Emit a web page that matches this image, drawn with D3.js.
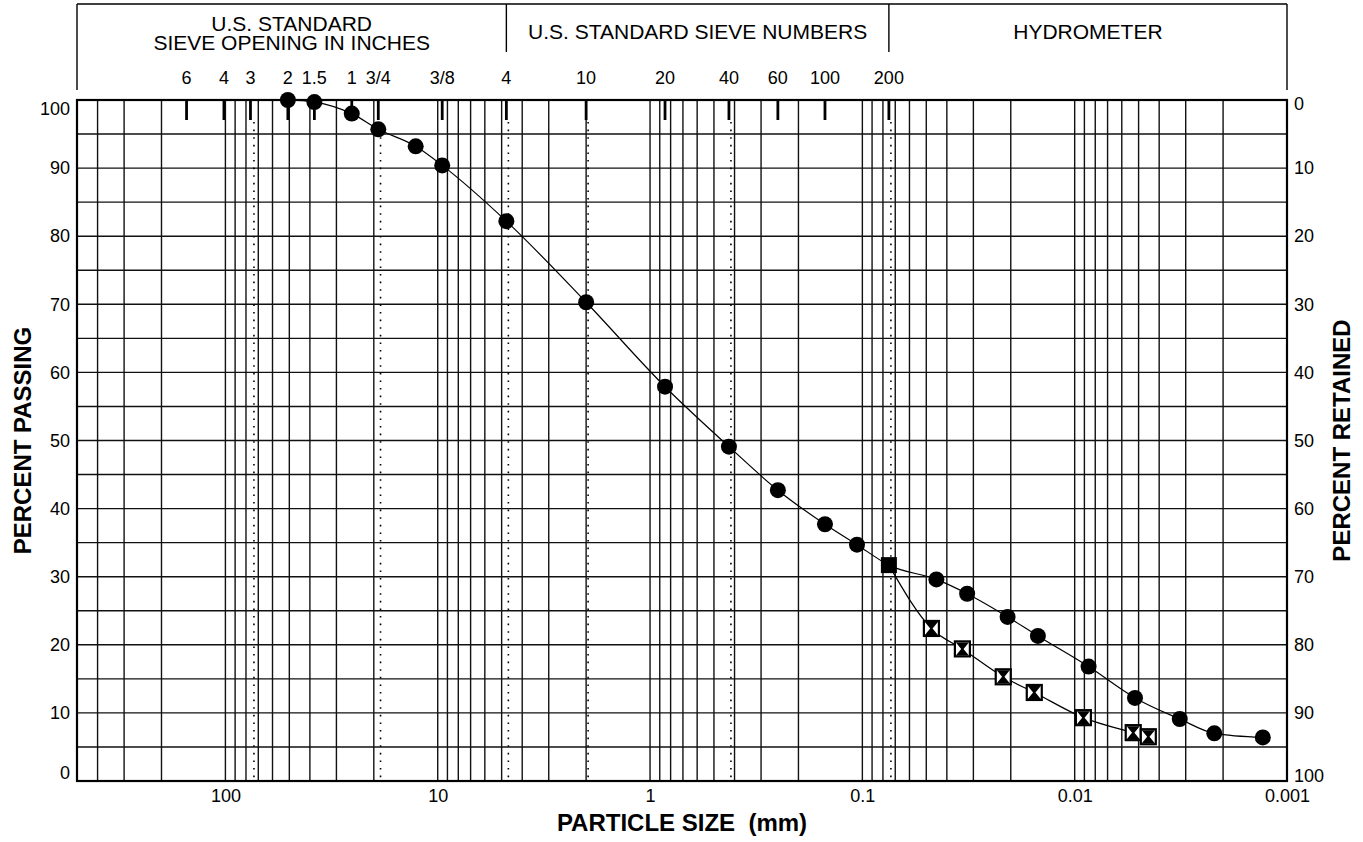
<!DOCTYPE html>
<html>
<head>
<meta charset="utf-8">
<script src="https://cdn.jsdelivr.net/npm/d3@7"></script>
<style>
    body { margin: 0; background: #fff; }
    text { font-family: "Liberation Sans", Arial, sans-serif; fill: #000; }
    .grid line { stroke: #111; stroke-width: 1.4; }
    .boundary line { stroke: #000; stroke-width: 1.6; stroke-dasharray: 1.6 6; }
    .frame { fill: none; stroke: #000; stroke-width: 2.2; }
    .head line { stroke: #000; stroke-width: 1.4; }
    .curve { fill: none; stroke: #000; stroke-width: 1.2; }
    .title { font-weight: bold; font-size: 24px; white-space: pre; }
</style>
</head>
<body>
<div class="container"></div>
<script>
// sieve test (percent passing by particle size in mm)
var sieveSize = [50.8, 38.1, 25.4, 19.05, 12.7, 9.525, 4.75, 2.0, 0.85, 0.425, 0.25, 0.15, 0.106];
var sievePassing = [100, 99.7, 98.0, 95.7, 93.2, 90.4, 82.2, 70.3, 57.9, 49.1, 42.7, 37.7, 34.7];

// No. 200 split point, shared by both hydrometer curves
var no200Size = [0.075];
var no200Passing = [31.7];

var hydroASize = [0.0448, 0.0321, 0.0207, 0.0149, 0.0086, 0.0052, 0.0032, 0.0022, 0.0013];
var hydroAPassing = [29.6, 27.5, 24.1, 21.3, 16.8, 12.2, 9.1, 7.0, 6.4];

var hydroBSize = [0.0473, 0.0338, 0.0217, 0.0155, 0.0091, 0.0053, 0.0045];
var hydroBPassing = [22.4, 19.4, 15.3, 13.0, 9.3, 7.1, 6.5];

var sieveLabels = ['6', '4', '3', '2', '1.5', '1', '3/4', '3/8', '4', '10', '20', '40', '60', '100', '200'];
var sieveOpenings = [152.4, 101.6, 76.2, 50.8, 38.1, 25.4, 19.05, 9.525, 4.75, 2.0, 0.85, 0.425, 0.25, 0.15, 0.075];
var boundarySizes = [75, 19, 4.75, 2.0, 0.425, 0.075];

var headerTitles = [['U.S. STANDARD', 'SIEVE OPENING IN INCHES'], ['U.S. STANDARD SIEVE NUMBERS'], ['HYDROMETER']];
var headerBreaks = [500, 4.75, 0.075, 0.001];

var sizeTicks = [100, 10, 1, 0.1, 0.01, 0.001];
var percentTicks = [0, 10, 20, 30, 40, 50, 60, 70, 80, 90, 100];

const WIDTH = 1363;
const HEIGHT = 842;
const LEFT = 77, RIGHT = 1287, TOP = 100, BOTTOM = 781;

var zip = function (xs, ys) {
    return xs.map(function (d, i) { return { size: d, passing: ys[i] }; });
};

var svg = d3.select('.container').append('svg')
    .attr('width', WIDTH)
    .attr('height', HEIGHT);

var x = d3.scaleLog().domain([500, 0.001]).range([LEFT, RIGHT]);
var y = d3.scaleLinear().domain([0, 100]).range([BOTTOM, TOP]);
var yRetained = d3.scaleLinear().domain([100, 0]).range([BOTTOM, TOP]);

// log grid: 1..9 in every decade inside the domain
var gridSizes = [];
for (var e = -3; e <= 2; e++) {
    for (var k = 1; k <= 9; k++) {
        var v = k * Math.pow(10, e);
        if (v > 0.0011 && v < 499) gridSizes.push(v);
    }
}

var grid = svg.append('g').attr('class', 'grid');
grid.selectAll('.v').data(gridSizes).enter().append('line')
    .attr('class', 'v')
    .attr('x1', function (d) { return x(d); })
    .attr('x2', function (d) { return x(d); })
    .attr('y1', TOP).attr('y2', BOTTOM);
grid.selectAll('.h').data(d3.range(5, 100, 5)).enter().append('line')
    .attr('class', 'h')
    .attr('x1', LEFT).attr('x2', RIGHT)
    .attr('y1', function (d) { return y(d); })
    .attr('y2', function (d) { return y(d); });

svg.append('g').attr('class', 'boundary')
    .attr('transform', 'translate(2,0)')
    .selectAll('line').data(boundarySizes).enter().append('line')
    .attr('x1', function (d) { return x(d); })
    .attr('x2', function (d) { return x(d); })
    .attr('y1', TOP + 22).attr('y2', BOTTOM);

// sieve tick marks hanging from the top edge
svg.append('g').selectAll('line').data(sieveOpenings).enter().append('line')
    .attr('x1', function (d) { return x(d); })
    .attr('x2', function (d) { return x(d); })
    .attr('y1', TOP).attr('y2', TOP + 20)
    .attr('stroke', '#000').attr('stroke-width', 2.8);

svg.append('rect').attr('class', 'frame')
    .attr('x', LEFT).attr('y', TOP)
    .attr('width', RIGHT - LEFT).attr('height', BOTTOM - TOP);

// header box
var head = svg.append('g').attr('class', 'head');
head.append('line').attr('x1', LEFT).attr('x2', RIGHT).attr('y1', 4).attr('y2', 4);
head.selectAll('.sep').data(headerBreaks).enter().append('line')
    .attr('class', 'sep')
    .attr('x1', function (d) { return x(d); })
    .attr('x2', function (d) { return x(d); })
    .attr('y1', 4)
    .attr('y2', function (d, i) { return (i == 0 || i == headerBreaks.length - 1) ? 90 : 52; });

headerTitles.forEach(function (lines, i) {
    var cx = (x(headerBreaks[i]) + x(headerBreaks[i + 1])) / 2;
    lines.forEach(function (t, j) {
        head.append('text')
            .attr('x', cx)
            .attr('y', lines.length == 1 ? 39 : 31 + j * 18.5)
            .attr('text-anchor', 'middle')
            .style('font-size', '21px')
            .text(t);
    });
});

svg.append('g').selectAll('text').data(sieveOpenings).enter().append('text')
    .attr('x', function (d) { return x(d); })
    .attr('y', 84)
    .attr('text-anchor', 'middle')
    .style('font-size', '18px')
    .text(function (d, i) { return sieveLabels[i]; });

// axes (labels only, the frame and grid are drawn above)
var xAxis = svg.append('g')
    .attr('transform', 'translate(0,' + BOTTOM + ')')
    .call(d3.axisBottom(x).tickValues(sizeTicks).tickSize(0).tickPadding(8)
        .tickFormat(function (d) { return String(d); }));
var leftAxis = svg.append('g')
    .attr('transform', 'translate(' + LEFT + ',0)')
    .call(d3.axisLeft(y).tickValues(percentTicks).tickSize(0).tickPadding(7));
var rightAxis = svg.append('g')
    .attr('transform', 'translate(' + RIGHT + ',0)')
    .call(d3.axisRight(yRetained).tickValues(percentTicks).tickSize(0).tickPadding(7));

[xAxis, leftAxis, rightAxis].forEach(function (a) {
    a.select('.domain').remove();
    a.selectAll('text').style('font-size', '18px').attr('font-family', null);
});
leftAxis.selectAll('text').filter(function (d) { return d == 100; }).attr('dy', '0.8em');
leftAxis.selectAll('text').filter(function (d) { return d == 0; }).attr('dy', '-0.15em');
rightAxis.selectAll('text').filter(function (d) { return d == 0; }).attr('dy', '0.5em');
rightAxis.selectAll('text').filter(function (d) { return d == 100; }).attr('dy', '0.05em');

svg.append('text').attr('class', 'title')
    .attr('x', (LEFT + RIGHT) / 2).attr('y', 831)
    .attr('text-anchor', 'middle')
    .text('PARTICLE SIZE  (mm)');
svg.append('text').attr('class', 'title')
    .attr('transform', 'translate(31,' + (TOP + BOTTOM) / 2 + ') rotate(-90)')
    .attr('text-anchor', 'middle')
    .text('PERCENT PASSING');
svg.append('text').attr('class', 'title')
    .attr('transform', 'translate(1350,' + (TOP + BOTTOM) / 2 + ') rotate(-90)')
    .attr('text-anchor', 'middle')
    .text('PERCENT RETAINED');

// curves
var sievePts = zip(sieveSize, sievePassing);
var splitPts = zip(no200Size, no200Passing);
var hydroAPts = zip(hydroASize, hydroAPassing);
var hydroBPts = zip(hydroBSize, hydroBPassing);

var line = d3.line()
    .x(function (d) { return x(d.size); })
    .y(function (d) { return y(d.passing); })
    .curve(d3.curveMonotoneX);

svg.append('path').attr('class', 'curve').attr('d', line(sievePts.concat(splitPts, hydroAPts)));
svg.append('path').attr('class', 'curve').attr('d', line(splitPts.concat(hydroBPts)));

svg.append('g').selectAll('circle').data(sievePts.concat(hydroAPts)).enter().append('circle')
    .attr('cx', function (d) { return x(d.size); })
    .attr('cy', function (d) { return y(d.passing); })
    .attr('r', 8)
    .attr('fill', '#000');

svg.append('g').selectAll('rect').data(splitPts).enter().append('rect')
    .attr('x', function (d) { return x(d.size) - 8; })
    .attr('y', function (d) { return y(d.passing) - 8; })
    .attr('width', 16).attr('height', 16)
    .attr('fill', '#000');

var hg = svg.append('g').selectAll('g').data(hydroBPts).enter().append('g')
    .attr('transform', function (d) { return 'translate(' + x(d.size) + ',' + y(d.passing) + ')'; });
hg.append('rect')
    .attr('x', -7.5).attr('y', -7.5).attr('width', 15).attr('height', 15)
    .attr('fill', '#fff').attr('stroke', '#000').attr('stroke-width', 2.2);
hg.append('path')
    .attr('d', 'M-6.5,-6.5L6.5,-6.5L1.2,0L6.5,6.5L-6.5,6.5L-1.2,0Z')
    .attr('fill', '#000');
</script>
</body>
</html>
